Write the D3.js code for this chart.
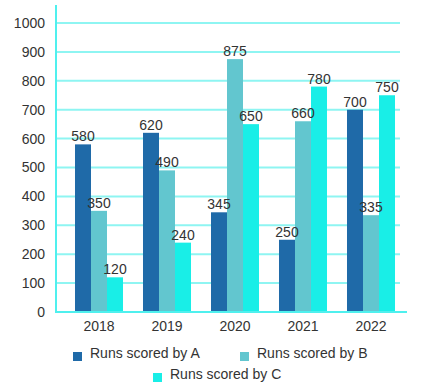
<!DOCTYPE html>
<html><head><meta charset="utf-8">
<script src="https://cdn.jsdelivr.net/npm/d3@7"></script>
<style>body{margin:0;background:#fff}svg{display:block}text{font-family:"Liberation Sans",Arial,sans-serif}</style>
</head><body><svg id="c" width="423" height="389"></svg>
<script>
const years = ["2018","2019","2020","2021","2022"];
const seriesNames = ["Runs scored by A","Runs scored by B","Runs scored by C"];
const runsA = [580,620,345,250,700];
const runsB = [350,490,875,660,335];
const runsC = [120,240,650,780,750];
const yTicks = [0,100,200,300,400,500,600,700,800,900,1000];
const colors = ["#1f6aa8","#62c6cf","#19eee7"];

const svg = d3.select("#c");
const series = [runsA, runsB, runsC];
const y = d3.scaleLinear().domain([0,1000]).range([312,23]);
const x0 = d3.scaleBand().domain(years).range([65,405]).paddingInner(0.294).paddingOuter(0.147);
const x1 = d3.scaleBand().domain([0,1,2]).range([0,x0.bandwidth()]);

// gridlines
svg.append("g").selectAll("line").data(yTicks.filter(d=>d>0)).join("line")
  .attr("x1",56).attr("x2",400).attr("y1",d=>y(d)).attr("y2",d=>y(d))
  .attr("stroke","#8ef5f2").attr("stroke-width",2);

// y axis
const ya = svg.append("g").attr("transform","translate(56,0)")
  .call(d3.axisLeft(y).tickValues(yTicks).tickFormat(d3.format("d")).tickSize(0).tickPadding(11));
ya.select(".domain").remove();
ya.selectAll("text").attr("font-size",14).attr("fill","#333").style("font-family","Liberation Sans, Arial, sans-serif");
svg.append("line").attr("x1",56).attr("x2",56).attr("y1",5).attr("y2",313)
  .attr("stroke","#4ff0ee").attr("stroke-width",2);

// bars
const g = svg.append("g").selectAll("g").data(years).join("g")
  .attr("transform",d=>`translate(${x0(d)},0)`);
g.selectAll("rect").data((d,i)=>series.map((s,k)=>({k,v:s[i]}))).join("rect")
  .attr("x",d=>x1(d.k)).attr("width",x1.bandwidth())
  .attr("y",d=>y(d.v)).attr("height",d=>y(0)-y(d.v))
  .attr("fill",d=>colors[d.k]);
g.selectAll("text").data((d,i)=>series.map((s,k)=>({k,v:s[i]}))).join("text")
  .attr("x",d=>x1(d.k)+x1.bandwidth()/2).attr("y",d=>y(d.v)-3)
  .attr("text-anchor","middle").attr("font-size",14).attr("fill","#333")
  .text(d=>d.v);

// x axis
const xa = svg.append("g").attr("transform","translate(0,312)")
  .call(d3.axisBottom(x0).tickSize(0).tickPadding(6));
xa.select(".domain").remove();
xa.selectAll("text").attr("font-size",14).attr("fill","#333").attr("dy","0.9em").style("font-family","Liberation Sans, Arial, sans-serif");
svg.append("line").attr("x1",55).attr("x2",407).attr("y1",312).attr("y2",312)
  .attr("stroke","#4ff0ee").attr("stroke-width",2);

// legend
const legPos = [[73,352],[240,352],[153,373]];
const lg = svg.append("g").selectAll("g").data(seriesNames).join("g")
  .attr("transform",(d,i)=>`translate(${legPos[i][0]},${legPos[i][1]})`);
lg.append("rect").attr("width",9).attr("height",9).attr("fill",(d,i)=>colors[i]);
lg.append("text").attr("x",17).attr("y",6).attr("font-size",14).attr("fill","#333").text(d=>d);
</script></body></html>
